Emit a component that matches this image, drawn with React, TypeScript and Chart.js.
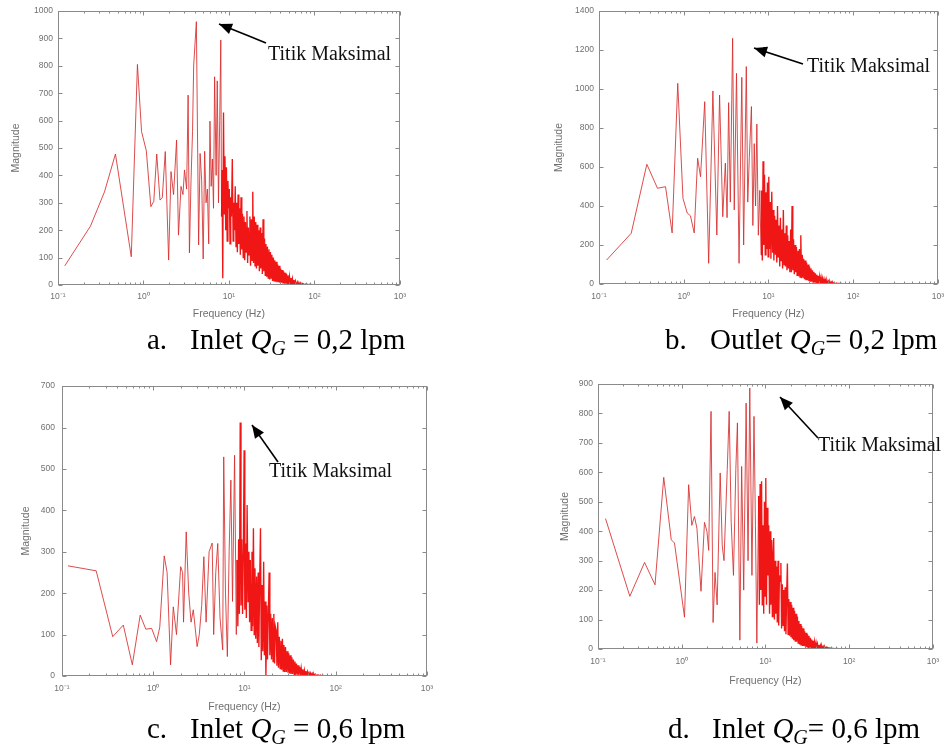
import React, { useEffect, useRef } from 'react';
import { Chart, registerables } from 'chart.js';

Chart.register(...registerables);

// ---------- data ----------
const X_TICKS = [0.1, 1, 10, 100, 1000];
const X_TICK_LABELS = ['10⁻¹', '10⁰', '10¹', '10²', '10³'];

// shared frequency bins (Hz) of the dense high-frequency part, 8.3 Hz .. 1 kHz
const FREQ_DENSE = [
  8.3, 8.47, 8.64, 8.81, 8.99, 9.17, 9.35, 9.54, 9.73, 9.92,
  10.1, 10.3, 10.5, 10.7, 10.95, 11.2, 11.4, 11.6, 11.85, 12.1,
  12.3, 12.55, 12.8, 13.05, 13.3, 13.6, 13.85, 14.15, 14.4, 14.7,
  15.0, 15.3, 15.6, 15.9, 16.25, 16.55, 16.9, 17.2, 17.6, 17.9,
  18.3, 18.65, 19.0, 19.4, 19.8, 20.2, 20.6, 21.0, 21.4, 21.8,
  22.3, 22.7, 23.2, 23.6, 24.1, 24.6, 25.1, 25.6, 26.1, 26.6,
  27.1, 27.7, 28.2, 28.8, 29.4, 30.0, 30.6, 31.2, 31.8, 32.4,
  33.1, 33.7, 34.4, 35.1, 35.8, 36.5, 37.2, 38.0, 38.7, 39.5,
  40.3, 41.1, 41.9, 42.8, 43.6, 44.5, 45.4, 46.3, 47.2, 48.2,
  49.1, 50.1, 51.1, 52.2, 53.2, 54.3, 55.4, 56.5, 57.6, 58.8,
  60, 62, 64, 66, 68, 70, 73, 76, 80, 85,
  90, 95, 100, 110, 130, 160, 200, 300, 500, 1000,
];

// (a) Inlet QG = 0,2 lpm
const freqA = [
  0.12, 0.24, 0.35, 0.47, 0.72, 0.85, 0.95, 1.08, 1.22, 1.32,
  1.43, 1.56, 1.66, 1.8, 1.97, 2.1, 2.25, 2.44, 2.57, 2.75,
  2.9, 3.02, 3.2, 3.33, 3.45, 3.6, 3.75, 3.87, 4.16, 4.42,
  4.6, 4.8, 5.0, 5.2, 5.4, 5.6, 5.8, 6.0, 6.2, 6.4,
  6.6, 6.8, 7.08, 7.3, 7.55, 7.8, 8.03, 8.2,
];
const magA = [
  70, 215, 340, 478, 103, 805, 560, 490, 286, 305,
  478, 310, 318, 487, 91, 414, 330, 529, 182, 360,
  330, 420, 350, 693, 117, 380, 560, 803, 961, 146,
  480, 380, 95, 488, 300, 350, 150, 598, 360, 460,
  280, 760, 400, 745, 300, 600, 894, 250,
];
const magDenseA = [
  420, 25, 630, 260, 470, 200, 430, 160, 380, 280,
  350, 150, 320, 250, 460, 160, 300, 200, 360, 140,
  300, 120, 330, 150, 280, 110, 320, 130, 260, 100,
  250, 90, 230, 120, 270, 80, 210, 110, 250, 70,
  240, 90, 340, 80, 250, 70, 230, 60, 220, 70,
  200, 50, 210, 60, 190, 40, 240, 50, 170, 35,
  150, 30, 140, 25, 130, 20, 120, 25, 110, 15,
  100, 15, 90, 12, 85, 10, 75, 10, 70, 8,
  60, 8, 55, 6, 50, 5, 45, 5, 40, 4,
  35, 3, 30, 3, 26, 2, 22, 2, 18, 2,
  15, 1.5, 12, 1, 9, 1, 6, 1, 4, 1,
  3, 0.5, 2, 0.5, 1, 0.5, 0.3, 0.2, 0.1, 0.1,
];

// (b) Outlet QG = 0,2 lpm
const freqB = [
  0.123, 0.24, 0.367, 0.49, 0.61, 0.73, 0.85, 0.98, 1.1, 1.2,
  1.33, 1.46, 1.58, 1.77, 1.97, 2.21, 2.46, 2.65, 2.89, 3.1,
  3.25, 3.39, 3.55, 3.78, 3.95, 4.2, 4.5, 4.85, 5.1, 5.48,
  5.7, 5.95, 6.3, 6.55, 6.8, 7.05, 7.3, 7.6, 7.9, 8.2,
];
const magB = [
  123, 260, 614, 491, 499, 262, 1029, 439, 364, 350,
  262, 645, 550, 935, 106, 990, 251, 969, 345, 620,
  340, 930, 420, 1260, 380, 1080, 106, 1060, 200, 1115,
  420, 650, 910, 300, 720, 400, 820, 250, 480, 150,
];
const magDenseB = [
  480, 120, 630, 200, 560, 150, 470, 180, 520, 140,
  550, 180, 420, 130, 473, 160, 380, 120, 350, 150,
  330, 110, 400, 140, 300, 90, 340, 120, 280, 80,
  380, 100, 260, 90, 300, 70, 250, 80, 220, 60,
  280, 60, 400, 70, 230, 50, 200, 60, 190, 45,
  170, 40, 180, 35, 250, 30, 150, 35, 130, 25,
  120, 20, 110, 20, 100, 15, 90, 15, 80, 12,
  70, 10, 62, 8, 55, 8, 48, 6, 42, 5,
  38, 5, 33, 4, 28, 3, 24, 3, 20, 2,
  17, 2, 14, 2, 12, 1.5, 10, 1.5, 8, 1,
  6, 1, 5, 1, 4, 1, 2.5, 0.5, 2, 0.5,
  1, 0.5, 0.5, 0.3, 0.3, 0.2, 0.2, 0.1, 0.1, 0.1,
];

// (c) Inlet QG = 0,6 lpm
const freqC = [
  0.116, 0.237, 0.36, 0.47, 0.59, 0.72, 0.83, 0.96, 1.09, 1.18,
  1.32, 1.42, 1.55, 1.66, 1.8, 2.0, 2.1, 2.15, 2.3, 2.45,
  2.6, 2.75, 3.03, 3.2, 3.4, 3.59, 3.8, 4.1, 4.43, 4.6,
  4.85, 5.1, 5.4, 5.78, 5.93, 6.2, 6.5, 6.8, 7.1, 7.4,
  7.8, 8.15,
];
const magC = [
  266, 254, 95, 123, 27, 147, 113, 115, 83, 118,
  290, 250, 27, 167, 100, 264, 250, 130, 348, 200,
  130, 160, 71, 100, 170, 288, 130, 300, 321, 100,
  250, 320, 140, 63, 529, 200, 47, 300, 473, 180,
  533, 100,
];
const magDenseC = [
  280, 120, 330, 150, 612, 170, 330, 150, 300, 545,
  160, 320, 140, 413, 180, 300, 130, 280, 110, 300,
  120, 357, 100, 260, 90, 240, 80, 250, 70, 230,
  357, 38, 220, 60, 276, 50, 180, 0, 170, 40,
  160, 250, 50, 150, 40, 140, 35, 150, 30, 120,
  110, 25, 130, 20, 95, 18, 85, 15, 90, 12,
  75, 10, 70, 10, 60, 8, 55, 6, 50, 5,
  45, 5, 40, 4, 35, 3, 30, 3, 26, 2,
  22, 2, 19, 2, 16, 1.5, 14, 1.5, 12, 1,
  10, 1, 8, 1, 7, 0.8, 6, 0.8, 5, 0.5,
  4, 0.5, 3, 0.5, 2.5, 0.5, 1.5, 0.3, 1, 0.3,
  0.8, 0.3, 0.5, 0.3, 0.2, 0.2, 0.1, 0.1, 0.1, 0.1,
];

// (d) Inlet QG = 0,6 lpm
const freqD = [
  0.123, 0.24, 0.36, 0.48, 0.61, 0.75, 0.82, 1.08, 1.21, 1.32,
  1.42, 1.52, 1.7, 1.87, 2.0, 2.1, 2.24, 2.37, 2.5, 2.65,
  2.88, 3.05, 3.2, 3.5, 3.69, 3.9, 4.15, 4.43, 4.63, 4.95,
  5.2, 5.5, 5.88, 6.2, 6.5, 6.9, 7.3, 7.6, 7.9,
];
const magD = [
  443, 179, 294, 218, 583, 371, 360, 108, 558, 420,
  450, 410, 196, 430, 400, 335, 807, 90, 260, 150,
  598, 350, 300, 610, 807, 430, 250, 610, 768, 30,
  620, 200, 835, 300, 886, 250, 790, 420, 20,
];
const magDenseD = [
  520, 150, 560, 200, 570, 150, 420, 120, 500, 180,
  581, 150, 480, 250, 420, 120, 400, 150, 370, 110,
  320, 377, 100, 300, 120, 280, 90, 300, 80, 250,
  230, 292, 70, 220, 80, 200, 60, 210, 50, 180,
  290, 50, 170, 45, 160, 40, 150, 35, 140, 30,
  130, 25, 120, 25, 110, 20, 95, 15, 85, 12,
  78, 10, 70, 10, 60, 8, 55, 6, 50, 5,
  45, 5, 38, 4, 32, 3, 28, 3, 24, 2,
  20, 2, 17, 2, 14, 1.5, 12, 1.5, 10, 1,
  8, 1, 7, 1, 6, 0.8, 5, 0.8, 4, 0.5,
  3, 0.5, 2.5, 0.5, 2, 0.5, 1.5, 0.3, 1, 0.3,
  0.8, 0.3, 0.5, 0.3, 0.2, 0.2, 0.1, 0.1, 0.1, 0.1,
];

// ---------- styles ----------
const LINE_LOW = 'rgba(215, 45, 45, 0.85)';
const LINE_DENSE = 'rgba(240, 10, 10, 0.95)';
const DENSE_FROM = 8.2;
const AXIS_COLOR = '#8a8a8a';
const TICK_TEXT = '#707070';
const SANS = '"Liberation Sans", Arial, sans-serif';
const SERIF = '"Liberation Serif", "Times New Roman", serif';

const framePlugin = {
  id: 'matlabFrame',
  afterDatasetsDraw(chart: any) {
    const { ctx, chartArea } = chart;
    const x = chart.scales.x;
    const y = chart.scales.y;
    const l = Math.round(chartArea.left) + 0.5;
    const r = Math.round(chartArea.right) - 0.5;
    const t = Math.round(chartArea.top) + 0.5;
    const b = Math.round(chartArea.bottom) - 0.5;
    ctx.save();
    ctx.strokeStyle = AXIS_COLOR;
    ctx.lineWidth = 1;
    ctx.strokeRect(l, t, r - l, b - t);
    ctx.beginPath();
    for (const tk of y.ticks) {
      const py = Math.round(y.getPixelForValue(tk.value)) + 0.5;
      ctx.moveTo(l, py); ctx.lineTo(l + 4, py);
      ctx.moveTo(r, py); ctx.lineTo(r - 4, py);
    }
    for (let d = 0; d < X_TICKS.length; d++) {
      const base = X_TICKS[d];
      const kMax = d === X_TICKS.length - 1 ? 1 : 9;
      for (let k = 1; k <= kMax; k++) {
        const px = Math.round(x.getPixelForValue(base * k)) + 0.5;
        const len = k === 1 ? 4 : 2;
        ctx.moveTo(px, b); ctx.lineTo(px, b - len);
        ctx.moveTo(px, t); ctx.lineTo(px, t + len);
      }
    }
    ctx.stroke();
    ctx.restore();
  },
};

type Box = { left: number; top: number; width: number; height: number };
type Plot = { l: number; t: number; r: number; b: number };

function Panel(props: {
  freq: number[]; mag: number[]; yMax: number; yStep: number;
  box: Box; plot: Plot; yPad: number; xPad: number;
}) {
  const ref = useRef<HTMLCanvasElement | null>(null);
  const { freq, mag, yMax, yStep, box, plot, yPad, xPad } = props;
  useEffect(() => {
    if (!ref.current) return;
    const points = freq.map((f, i) => ({ x: f, y: mag[i] }));
    const chart = new Chart(ref.current, {
      type: 'line',
      data: {
        datasets: [{
          data: points,
          borderColor: LINE_LOW,
          borderWidth: 1,
          pointRadius: 0,
          tension: 0,
          fill: false,
          segment: {
            borderColor: (c: any) => (c.p0.parsed.x >= DENSE_FROM ? LINE_DENSE : LINE_LOW),
            borderWidth: (c: any) => (c.p0.parsed.x >= DENSE_FROM ? 1.35 : 1),
          },
        }],
      },
      options: {
        animation: false,
        responsive: false,
        maintainAspectRatio: false,
        events: [],
        layout: {
          autoPadding: false,
          padding: {
            left: 0,
            top: plot.t - box.top,
            right: box.left + box.width - plot.r,
            bottom: 0,
          },
        },
        plugins: { legend: { display: false }, tooltip: { enabled: false } },
        scales: {
          x: {
            type: 'logarithmic',
            min: 0.1,
            max: 1000,
            afterBuildTicks: (s: any) => { s.ticks = X_TICKS.map((v) => ({ value: v, major: true })); },
            afterFit: (s: any) => { s.height = box.top + box.height - plot.b; },
            ticks: {
              autoSkip: false,
              maxRotation: 0,
              padding: xPad,
              color: TICK_TEXT,
              font: { family: SANS, size: 8.5 },
              callback: (_v: any, i: number) => X_TICK_LABELS[i],
            },
            grid: { display: false, drawTicks: false },
            border: { display: false },
            title: { display: true, text: 'Frequency (Hz)', color: TICK_TEXT, padding: 0, font: { family: SANS, size: 10.5 } },
          },
          y: {
            min: 0,
            max: yMax,
            afterFit: (s: any) => { s.width = plot.l - box.left; },
            ticks: {
              stepSize: yStep,
              padding: yPad,
              color: TICK_TEXT,
              font: { family: SANS, size: 8.5 },
              callback: (v: any) => String(v),
            },
            grid: { display: false, drawTicks: false },
            border: { display: false },
            title: { display: true, text: 'Magnitude', color: TICK_TEXT, padding: 0, font: { family: SANS, size: 10.5 } },
          },
        },
      } as any,
      plugins: [framePlugin],
    });
    return () => chart.destroy();
  }, []);
  return (
    <canvas
      ref={ref}
      width={box.width}
      height={box.height}
      style={{ position: 'absolute', left: box.left, top: box.top, width: box.width, height: box.height }}
    />
  );
}

function arrowHead(tip: [number, number], tail: [number, number], len: number, half: number) {
  const dx = tip[0] - tail[0];
  const dy = tip[1] - tail[1];
  const d = Math.hypot(dx, dy);
  const ux = dx / d, uy = dy / d;
  const bx = tip[0] - ux * len, by = tip[1] - uy * len;
  return `${tip[0]},${tip[1]} ${bx - uy * half},${by + ux * half} ${bx + uy * half},${by - ux * half}`;
}

const ARROWS: { tip: [number, number]; tail: [number, number] }[] = [
  { tip: [219, 24], tail: [266, 43] },
  { tip: [754, 48], tail: [803, 64] },
  { tip: [252, 425], tail: [278, 462] },
  { tip: [780, 397], tail: [818, 438] },
];
const NOTES = [
  { left: 268, top: 43 },
  { left: 807, top: 55 },
  { left: 269, top: 460 },
  { left: 818, top: 434 },
];

function Caption(props: { tag: string; tagLeft: number; left: number; top: number; word: string; value: string; tight?: boolean }) {
  const font: React.CSSProperties = { position: 'absolute', top: props.top, fontFamily: SERIF, fontSize: 29, lineHeight: '32px', color: '#000', whiteSpace: 'nowrap' };
  return (
    <>
      <div style={{ ...font, left: props.tagLeft }}>{props.tag}</div>
      <div style={{ ...font, left: props.left }}>
        {props.word}{' '}
        <span style={{ fontStyle: 'italic' }}>Q</span>
        <span style={{ fontStyle: 'italic', fontSize: 20, verticalAlign: '-6px' }}>G</span>
        {props.tight ? '= ' : ' = '}{props.value}
      </div>
    </>
  );
}

const panels = [
  { freq: [...freqA, ...FREQ_DENSE], mag: [...magA, ...magDenseA], yMax: 1000, yStep: 100,
    box: { left: 10, top: 0, width: 403, height: 320 }, plot: { l: 58, t: 11, r: 403, b: 285 }, yPad: 5, xPad: 7 },
  { freq: [...freqB, ...FREQ_DENSE], mag: [...magB, ...magDenseB], yMax: 1400, yStep: 200,
    box: { left: 553, top: 0, width: 399, height: 320 }, plot: { l: 599, t: 11, r: 944, b: 284 }, yPad: 5, xPad: 8 },
  { freq: [...freqC, ...FREQ_DENSE], mag: [...magC, ...magDenseC], yMax: 700, yStep: 100,
    box: { left: 20, top: 374, width: 421, height: 339 }, plot: { l: 62, t: 386, r: 429, b: 676 }, yPad: 7, xPad: 8 },
  { freq: [...freqD, ...FREQ_DENSE], mag: [...magD, ...magDenseD], yMax: 900, yStep: 100,
    box: { left: 559, top: 372, width: 388, height: 315 }, plot: { l: 598, t: 384, r: 935, b: 649 }, yPad: 5, xPad: 8 },
];

export default function App() {
  return (
    <div style={{ position: 'absolute', left: 0, top: 0, width: 952, height: 753, background: '#fff', overflow: 'hidden' }}>
      {panels.map((p, i) => (
        <Panel key={i} {...p} />
      ))}

      <svg width={952} height={753} style={{ position: 'absolute', left: 0, top: 0, pointerEvents: 'none' }}>
        {ARROWS.map((a, i) => (
          <g key={i}>
            <line x1={a.tail[0]} y1={a.tail[1]} x2={a.tip[0]} y2={a.tip[1]} stroke="#000" strokeWidth={1.6} />
            <polygon points={arrowHead(a.tip, a.tail, 13, 5.5)} fill="#000" />
          </g>
        ))}
      </svg>
      {NOTES.map((n, i) => (
        <div key={i} style={{ position: 'absolute', left: n.left, top: n.top, fontFamily: SERIF, fontSize: 20, lineHeight: '20px', color: '#111', whiteSpace: 'nowrap' }}>
          Titik Maksimal
        </div>
      ))}

      <Caption tag="a." tagLeft={147} left={190} top={323} word="Inlet" value="0,2 lpm" />
      <Caption tag="b." tagLeft={665} left={710} top={323} word="Outlet" value="0,2 lpm" tight />
      <Caption tag="c." tagLeft={147} left={190} top={712} word="Inlet" value="0,6 lpm" />
      <Caption tag="d." tagLeft={668} left={712} top={712} word="Inlet" value="0,6 lpm" tight />
    </div>
  );
}
